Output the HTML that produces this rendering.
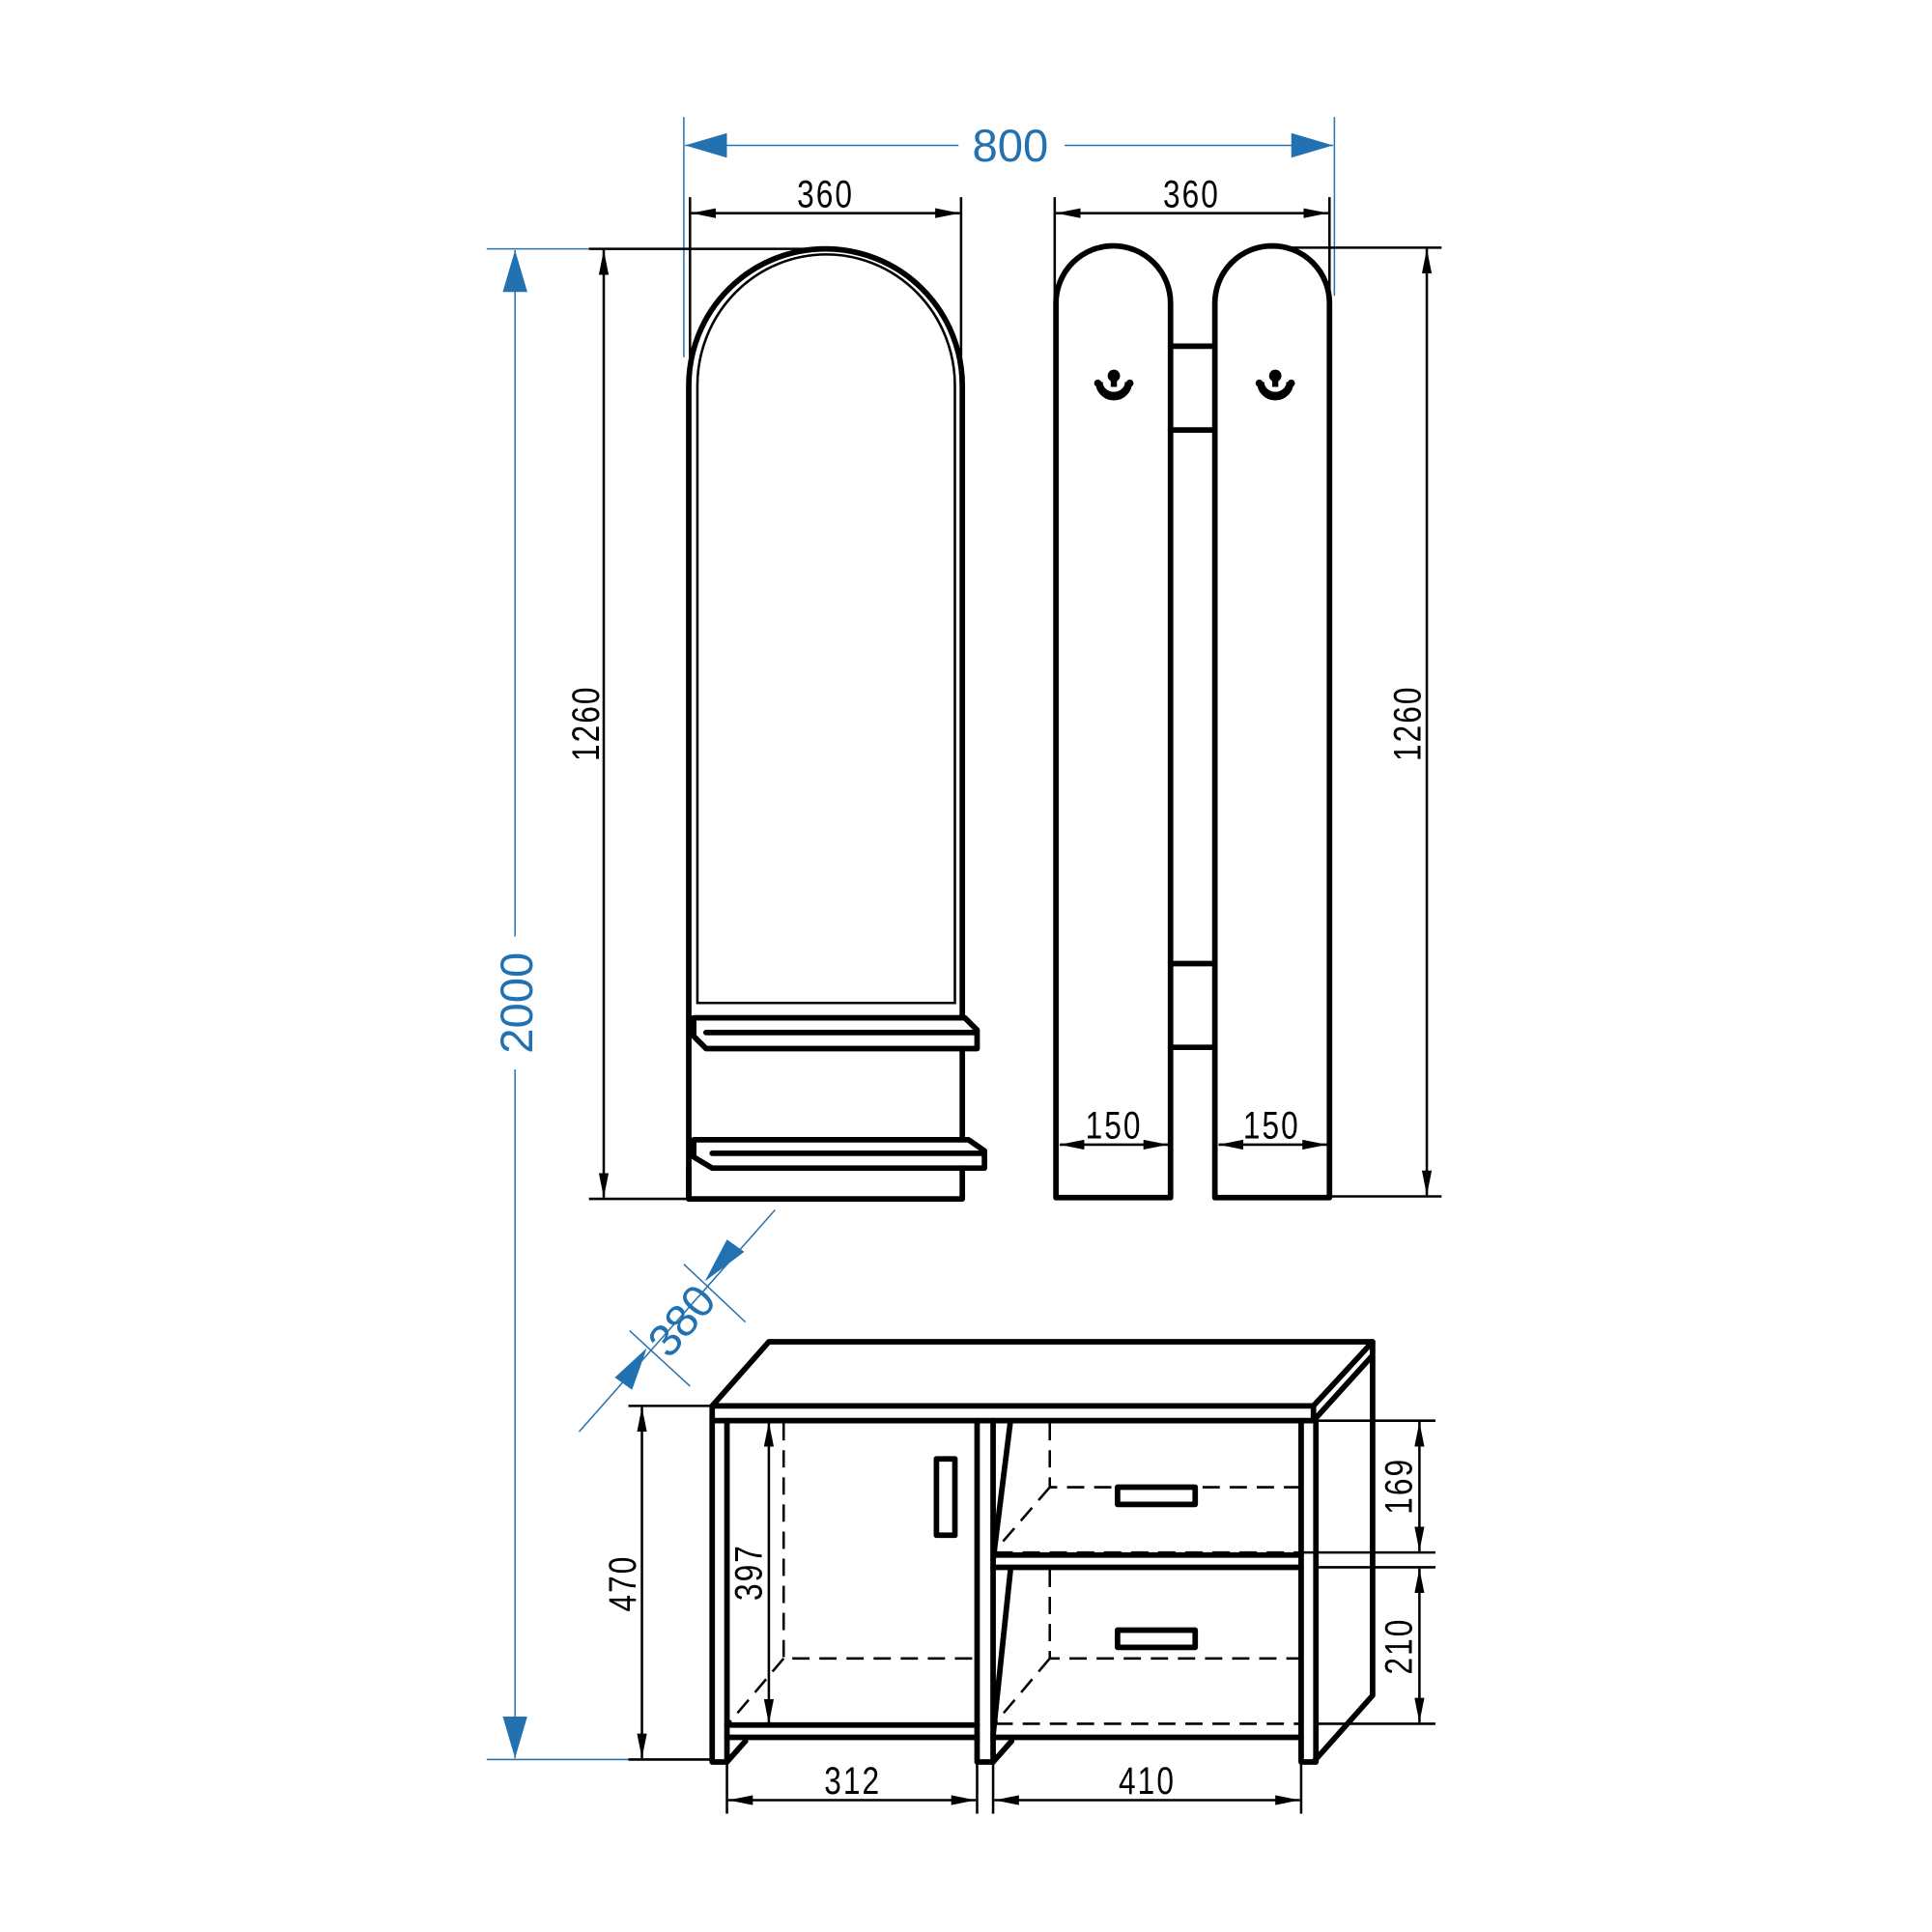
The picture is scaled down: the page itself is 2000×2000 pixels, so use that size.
<!DOCTYPE html>
<html><head><meta charset="utf-8"><style>
html,body{margin:0;padding:0;background:#fff;width:2000px;height:2000px;overflow:hidden}
svg{display:block}
.k{fill:none;stroke:#000;stroke-width:4.5;stroke-linejoin:round;stroke-linecap:round}
.t{fill:none;stroke:#000;stroke-width:2}
.d{fill:none;stroke:#000;stroke-width:2;stroke-dasharray:14 8}
.b{stroke:#2a73ad;stroke-width:1.2;fill:none}
.bt{fill:#2271b0;font-family:"Liberation Sans",sans-serif;font-size:37px}
.nt{fill:#000;font-family:"Liberation Sans",sans-serif;font-size:31px;letter-spacing:2px}
</style></head><body>
<svg width="2000" height="2000" viewBox="0 0 1568 1568" xmlns="http://www.w3.org/2000/svg">
<defs>
<marker id="a" viewBox="0 0 20 8" refX="20" refY="4" markerWidth="20" markerHeight="8" markerUnits="userSpaceOnUse" orient="auto-start-reverse"><path d="M0,0 L20,4 L0,8 Z" fill="#000"/></marker>
<marker id="ab" viewBox="0 0 34 20" refX="34" refY="10" markerWidth="34" markerHeight="20" markerUnits="userSpaceOnUse" orient="auto-start-reverse"><path d="M0,0 L34,10 L0,20 Z" fill="#2271b0"/></marker>
</defs>

<line class="b" x1="555" y1="95" x2="555" y2="290"/>
<line class="b" x1="1083" y1="95" x2="1083" y2="240"/>
<line class="b" x1="556" y1="118" x2="778" y2="118" marker-start="url(#ab)"/>
<line class="b" x1="864" y1="118" x2="1082" y2="118" marker-end="url(#ab)"/>
<text class="bt" x="820" y="131" text-anchor="middle">800</text>

<line class="b" x1="395" y1="202" x2="680" y2="202"/>
<line class="b" x1="395" y1="1428" x2="578" y2="1428"/>
<line class="b" x1="418" y1="203" x2="418" y2="760" marker-start="url(#ab)"/>
<line class="b" x1="418" y1="868" x2="418" y2="1427" marker-end="url(#ab)"/>
<text class="bt" transform="translate(432,814) rotate(-90)" text-anchor="middle">2000</text>

<line class="b" x1="629" y1="982" x2="470" y2="1162"/>
<path d="M572,1040 L604,1016 L590,1006 Z M525,1094 L499,1118 L513,1128 Z" fill="#2271b0"/>
<line class="b" x1="555" y1="1026" x2="605" y2="1073"/>
<line class="b" x1="511" y1="1080" x2="560" y2="1125"/>
<text class="bt" transform="translate(563,1080) rotate(-50)" text-anchor="middle">380</text>

<line class="t" x1="478" y1="202" x2="670" y2="202"/>
<line class="t" x1="478" y1="973" x2="558" y2="973"/>
<line class="t" x1="490" y1="203" x2="490" y2="972" marker-start="url(#a)" marker-end="url(#a)"/>
<text class="nt" transform="translate(486,587) rotate(-90) scale(0.8,1)" text-anchor="middle">1260</text>
<line class="t" x1="560" y1="160" x2="560" y2="300"/>
<line class="t" x1="780" y1="160" x2="780" y2="300"/>
<line class="t" x1="561" y1="173" x2="779" y2="173" marker-start="url(#a)" marker-end="url(#a)"/>
<text class="nt" transform="translate(670,168) scale(0.8,1)" text-anchor="middle">360</text>

<path class="k" d="M559,826 V313 A111,111 0 0 1 781,313 V826"/>
<path class="t" d="M566,814 V313 A104,106 0 0 1 775,313 V814 Z"/>
<path class="k" d="M563,826 H783 L793,836 V851 H573 L563,841 Z M573,838 H793"/>
<line class="k" x1="559" y1="826" x2="559" y2="973"/>
<line class="k" x1="781" y1="851" x2="781" y2="925"/>
<path class="k" d="M563,925 H786 L799,934 V948 H578 L563,939 Z M578,936 H799"/>
<path class="k" d="M559,948 V973 H781 V948"/>

<path class="k" d="M857,972 V246 A46.5,46.5 0 0 1 950,246 V972 Z"/>
<path class="k" d="M986,972 V246 A46.5,46.5 0 0 1 1079,246 V972 Z"/>
<path class="k" d="M950,281 H986 M950,349 H986 M950,782 H986 M950,850 H986"/>
<g fill="#000">
<path d="M889,310 A15,15 0 0 0 919,310 L913,310 A9,8 0 0 1 895,310 Z"/><circle cx="904" cy="305" r="5"/><rect x="901.5" y="305" width="5" height="9"/><circle cx="891" cy="311" r="3"/><circle cx="917" cy="311" r="3"/>
<path d="M1020,310 A15,15 0 0 0 1050,310 L1044,310 A9,8 0 0 1 1026,310 Z"/><circle cx="1035" cy="305" r="5"/><rect x="1032.5" y="305" width="5" height="9"/><circle cx="1022" cy="311" r="3"/><circle cx="1048" cy="311" r="3"/>
</g>
<line class="t" x1="856" y1="160" x2="856" y2="318"/>
<line class="t" x1="1079" y1="160" x2="1079" y2="240"/>
<line class="t" x1="857" y1="173" x2="1078" y2="173" marker-start="url(#a)" marker-end="url(#a)"/>
<text class="nt" transform="translate(967,168) scale(0.8,1)" text-anchor="middle">360</text>
<line class="t" x1="1030" y1="201" x2="1170" y2="201"/>
<line class="t" x1="1080" y1="971" x2="1170" y2="971"/>
<line class="t" x1="1158" y1="202" x2="1158" y2="970" marker-start="url(#a)" marker-end="url(#a)"/>
<text class="nt" transform="translate(1153,587) rotate(-90) scale(0.8,1)" text-anchor="middle">1260</text>
<line class="t" x1="860" y1="929" x2="948" y2="929" marker-start="url(#a)" marker-end="url(#a)"/>
<line class="t" x1="989" y1="929" x2="1077" y2="929" marker-start="url(#a)" marker-end="url(#a)"/>
<text class="nt" transform="translate(904,924) scale(0.8,1)" text-anchor="middle">150</text>
<text class="nt" transform="translate(1032,924) scale(0.8,1)" text-anchor="middle">150</text>

<path class="k" d="M578,1141 L624,1089 H1114 L1066,1141 Z"/>
<path class="k" d="M578,1141 V1153 H1066 V1141"/>
<path class="k" d="M1066,1153 L1114,1100 M1114,1089 V1376 L1066,1430"/>
<path class="k" d="M578,1153 V1430 H590 V1153 M793,1153 V1430 H806 V1153 M1056,1153 V1430 H1068 V1153"/>
<path class="k" d="M590,1400 H793 M590,1410 H793 M806,1410 H1056 M806,1262 H1056 M806,1272 H1056"/>
<path class="k" d="M590,1430 L605,1413 M806,1430 L821,1413"/>
<path class="k" d="M806,1266 L820,1154 M806,1408 L820,1275"/>
<rect class="k" x="760" y="1184" width="15" height="62"/>
<rect class="k" x="907" y="1207" width="63" height="14"/>
<rect class="k" x="907" y="1323" width="63" height="14"/>
<path class="d" d="M636,1155 V1346 H793 M636,1346 L592,1398 M594,1399 H793"/>
<path class="d" d="M852,1155 V1207 H1056 M852,1207 L808,1258 M808,1260 H1056"/>
<path class="d" d="M852,1274 V1346 H1056 M852,1346 L808,1398 M808,1399 H1056"/>
<line class="t" x1="1068" y1="1153" x2="1165" y2="1153"/>
<line class="t" x1="1056" y1="1260" x2="1165" y2="1260"/>
<line class="t" x1="1068" y1="1272" x2="1165" y2="1272"/>
<line class="t" x1="1068" y1="1399" x2="1165" y2="1399"/>
<line class="t" x1="1152" y1="1154" x2="1152" y2="1259" marker-start="url(#a)" marker-end="url(#a)"/>
<line class="t" x1="1152" y1="1273" x2="1152" y2="1398" marker-start="url(#a)" marker-end="url(#a)"/>
<text class="nt" transform="translate(1146,1206) rotate(-90) scale(0.8,1)" text-anchor="middle">169</text>
<text class="nt" transform="translate(1146,1336) rotate(-90) scale(0.8,1)" text-anchor="middle">210</text>
<line class="t" x1="510" y1="1141" x2="578" y2="1141"/>
<line class="t" x1="510" y1="1428" x2="578" y2="1428"/>
<line class="t" x1="521" y1="1142" x2="521" y2="1427" marker-start="url(#a)" marker-end="url(#a)"/>
<text class="nt" transform="translate(516,1285) rotate(-90) scale(0.8,1)" text-anchor="middle">470</text>
<line class="t" x1="624" y1="1154" x2="624" y2="1399" marker-start="url(#a)" marker-end="url(#a)"/>
<text class="nt" transform="translate(618,1276) rotate(-90) scale(0.8,1)" text-anchor="middle">397</text>
<line class="t" x1="590" y1="1430" x2="590" y2="1472"/>
<line class="t" x1="793" y1="1430" x2="793" y2="1472"/>
<line class="t" x1="806" y1="1430" x2="806" y2="1472"/>
<line class="t" x1="1056" y1="1430" x2="1056" y2="1472"/>
<line class="t" x1="591" y1="1461" x2="792" y2="1461" marker-start="url(#a)" marker-end="url(#a)"/>
<line class="t" x1="807" y1="1461" x2="1055" y2="1461" marker-start="url(#a)" marker-end="url(#a)"/>
<text class="nt" transform="translate(692,1456) scale(0.8,1)" text-anchor="middle">312</text>
<text class="nt" transform="translate(931,1456) scale(0.8,1)" text-anchor="middle">410</text>
</svg>
</body></html>
